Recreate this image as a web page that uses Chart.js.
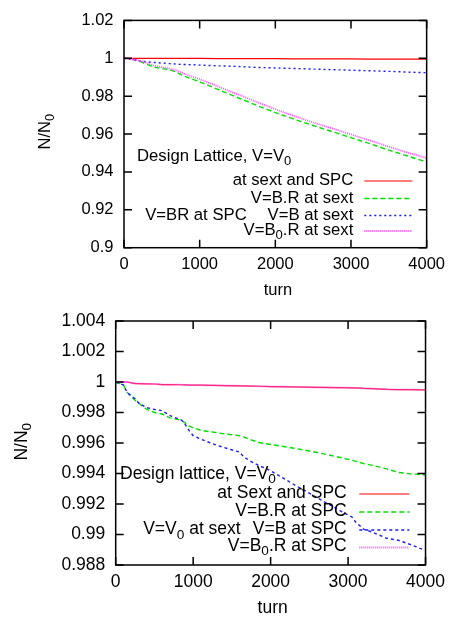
<!DOCTYPE html>
<html>
<head>
<meta charset="utf-8">
<script src="https://cdn.jsdelivr.net/npm/chart.js@4/dist/chart.umd.min.js"></script>
<style>
html,body{margin:0;padding:0;background:#fff;}
#wrap{position:relative;width:452px;height:617px;}
#c1{position:absolute;left:0;top:0;}
#c2{position:absolute;left:0;top:300px;}
</style>
</head>
<body>
<div id="wrap">
<canvas id="c1" width="452" height="300"></canvas>
<canvas id="c2" width="452" height="317"></canvas>
</div>
<script>
// ---------- DATA ----------
const xTickValues = [0, 1000, 2000, 3000, 4000];
const topYTickValues = [0.9, 0.92, 0.94, 0.96, 0.98, 1, 1.02];
const botYTickValues = [0.988, 0.99, 0.992, 0.994, 0.996, 0.998, 1, 1.002, 1.004];

// top panel (V=V0 design lattice, at sext)
const topTurns    = [0, 100, 200, 300, 400, 500, 600, 700, 800, 900, 1000, 1250, 1500, 1750, 2000, 2250, 2500, 2750, 3000, 3250, 3500, 3750, 4000];
const topSextSpc  = [1, 1, 1, 1, 0.9999, 0.9999, 0.9999, 0.9999, 0.9999, 0.9999, 0.9999, 0.9998, 0.9998, 0.9998, 0.9998, 0.9997, 0.9997, 0.9997, 0.9997, 0.9996, 0.9996, 0.9996, 0.9996];
const topBRSext   = [1, 0.9995, 0.9986, 0.9968, 0.9952, 0.9946, 0.9940, 0.9925, 0.9905, 0.9890, 0.9876, 0.9834, 0.9793, 0.9752, 0.9713, 0.9678, 0.9645, 0.9613, 0.9581, 0.9549, 0.9515, 0.9484, 0.9452];
const topBSext    = [1, 0.9994, 0.9986, 0.9981, 0.9978, 0.9975, 0.9972, 0.9969, 0.9967, 0.9966, 0.9964, 0.9960, 0.9957, 0.9952, 0.9949, 0.9946, 0.9943, 0.9940, 0.9937, 0.9934, 0.9931, 0.9927, 0.9924];
const topB0RSext  = [1, 0.9996, 0.9988, 0.9975, 0.9960, 0.9953, 0.9946, 0.9935, 0.9917, 0.9903, 0.9890, 0.9850, 0.9810, 0.9770, 0.9731, 0.9695, 0.9661, 0.9630, 0.9598, 0.9566, 0.9533, 0.9502, 0.9473];

// bottom panel (V=V0 at sext, at SPC)
const botTurns    = [0, 100, 150, 250, 300, 400, 500, 600, 700, 850, 900, 950, 1000, 1100, 1250, 1400, 1600, 1650, 1750, 1850, 2000, 2300, 2600, 2900, 3050, 3100, 3200, 3300, 3500, 3650, 3800, 4000];
const botSextSpc  = [1, 1, 1, 0.99989, 0.99989, 0.99988, 0.99987, 0.99983, 0.99983, 0.99982, 0.99981, 0.9998, 0.99979, 0.99979, 0.99978, 0.99976, 0.99975, 0.99974, 0.99973, 0.99972, 0.9997, 0.99968, 0.99965, 0.99963, 0.99962, 0.99961, 0.99958, 0.99957, 0.99952, 0.9995, 0.9995, 0.99948];
const botBRSpc    = [1, 0.9998, 0.9993, 0.9988, 0.9986, 0.9982, 0.998, 0.9979, 0.99765, 0.99748, 0.9973, 0.9971, 0.997, 0.99683, 0.99672, 0.9966, 0.99648, 0.9964, 0.9962, 0.99603, 0.9959, 0.99566, 0.99538, 0.99505, 0.99487, 0.9948, 0.99465, 0.99455, 0.9943, 0.99407, 0.99398, 0.9939];
const botBSpc     = [1, 0.9998, 0.9993, 0.9989, 0.9986, 0.99832, 0.9982, 0.99812, 0.9978, 0.9975, 0.9972, 0.9968, 0.99648, 0.99625, 0.99595, 0.9957, 0.9954, 0.9951, 0.99478, 0.99452, 0.99418, 0.99328, 0.99242, 0.99155, 0.99115, 0.9908, 0.99035, 0.99018, 0.98975, 0.98962, 0.98935, 0.98895];
const botB0RSpc   = [1, 1, 1, 0.9999, 0.99989, 0.99988, 0.99987, 0.99983, 0.99983, 0.99982, 0.99981, 0.9998, 0.9998, 0.99979, 0.99978, 0.99977, 0.99975, 0.99974, 0.99973, 0.99972, 0.9997, 0.99968, 0.99965, 0.99963, 0.99962, 0.99961, 0.99958, 0.99957, 0.99952, 0.9995, 0.9995, 0.99948];

// ---------- DRAWING ----------
const FONT = '"Liberation Sans", Arial, Helvetica, sans-serif';

function drawRich(ctx, s, x, y, align, size) {
  const parts = s.split(/_\{([^}]*)\}/);
  const subSize = size * 0.78;
  let w = 0;
  parts.forEach((p, i) => {
    ctx.font = (i % 2 ? subSize : size) + 'px ' + FONT;
    w += ctx.measureText(p).width;
  });
  let cx = align === 'right' ? x - w : (align === 'center' ? x - w / 2 : x);
  ctx.textAlign = 'left';
  ctx.textBaseline = 'middle';
  ctx.fillStyle = '#000';
  parts.forEach((p, i) => {
    const sub = i % 2 === 1;
    ctx.font = (sub ? subSize : size) + 'px ' + FONT;
    ctx.fillText(p, cx, sub ? y + size * 0.32 : y);
    cx += ctx.measureText(p).width;
  });
}

const framePlugin = {
  id: 'gnuframe',
  afterDraw(chart) {
    const o = chart.options.plugins.gnuframe;
    const ctx = chart.ctx;
    const a = chart.chartArea;
    const xs = chart.scales.x, ys = chart.scales.y;
    ctx.save();
    ctx.strokeStyle = '#000';
    ctx.lineWidth = 1.5;
    ctx.setLineDash([]);
    ctx.strokeRect(a.left, a.top, a.right - a.left, a.bottom - a.top);
    const tl = 8;
    ctx.beginPath();
    ys.ticks.forEach(t => {
      const py = ys.getPixelForValue(t.value);
      ctx.moveTo(a.left, py); ctx.lineTo(a.left + tl, py);
      ctx.moveTo(a.right, py); ctx.lineTo(a.right - tl, py);
    });
    xs.ticks.forEach(t => {
      const px = xs.getPixelForValue(t.value);
      ctx.moveTo(px, a.bottom); ctx.lineTo(px, a.bottom - tl);
      ctx.moveTo(px, a.top); ctx.lineTo(px, a.top + tl);
    });
    ctx.stroke();

    // axis titles
    drawRich(ctx, 'turn', o.xTitle[0], o.xTitle[1], 'center', o.size);
    ctx.save();
    ctx.translate(o.yTitle[0], o.yTitle[1]);
    ctx.rotate(-Math.PI / 2);
    drawRich(ctx, 'N/N_{0}', 0, 0, 'center', o.size);
    ctx.restore();

    // key
    drawRich(ctx, o.keyTitle.text, o.keyTitle.x, o.keyTitle.y, 'left', o.keySize);
    chart.data.datasets.forEach((d, i) => {
      const e = o.keyRows[i];
      drawRich(ctx, d.label, o.keyTextRight, e[0], 'right', o.keySize);
      ctx.save();
      ctx.beginPath();
      ctx.strokeStyle = d.borderColor;
      ctx.lineWidth = d.borderWidth;
      ctx.setLineDash(d.borderDash || []);
      ctx.moveTo(o.keySample[0], e[1]);
      ctx.lineTo(o.keySample[1], e[1]);
      ctx.stroke();
      ctx.restore();
    });
    o.extra.forEach(t => drawRich(ctx, t.text, t.x, t.y, 'right', o.keySize));
    ctx.restore();
  }
};

function fmt(v) { return String(+(+v).toFixed(4)); }

function build(id, cfg) {
  const datasets = cfg.series.map((s, i) => ({
    label: s.label,
    data: cfg.turns.map((t, k) => ({ x: t, y: s.values[k] })),
    borderColor: s.color,
    borderWidth: s.width,
    borderDash: s.dash,
    pointRadius: 0,
    fill: false,
    tension: 0,
    order: cfg.series.length - i
  }));
  const H = document.getElementById(id).height;
  return new Chart(document.getElementById(id), {
    type: 'line',
    data: { datasets },
    plugins: [framePlugin],
    options: {
      responsive: false,
      animation: false,
      devicePixelRatio: 1,
      layout: { padding: { left: 0, right: cfg.padRight, top: cfg.padTop, bottom: 0 } },
      plugins: {
        legend: { display: false },
        tooltip: { enabled: false },
        gnuframe: cfg.frame
      },
      scales: {
        x: {
          type: 'linear', min: 0, max: 4000,
          afterBuildTicks: s => { s.ticks = xTickValues.map(v => ({ value: v })); },
          afterFit: s => { s.height = H - cfg.plotBottom; },
          grid: { display: false, drawTicks: false },
          border: { display: false },
          ticks: { color: '#000', font: { family: FONT, size: cfg.tickSize }, padding: cfg.xPad, maxRotation: 0, autoSkip: false, callback: v => fmt(v) }
        },
        y: {
          type: 'linear', min: cfg.yTicks[0], max: cfg.yTicks[cfg.yTicks.length - 1],
          afterBuildTicks: s => { s.ticks = cfg.yTicks.map(v => ({ value: v })); },
          afterFit: s => { s.width = cfg.plotLeft; },
          grid: { display: false, drawTicks: false },
          border: { display: false },
          ticks: { color: '#000', font: { family: FONT, size: cfg.tickSize }, padding: 10.5, autoSkip: false, callback: v => fmt(v) }
        }
      }
    }
  });
}

build('c1', {
  turns: topTurns,
  yTicks: topYTickValues,
  plotLeft: 124, padRight: 19.3, padTop: 15, plotBottom: 247.7,
  tickSize: 16.5, xPad: 7,
  series: [
    { label: 'at sext and SPC', values: topSextSpc, color: '#ff0000', width: 1.2, dash: [] },
    { label: 'V=B.R at sext', values: topBRSext, color: '#00e000', width: 1.4, dash: [5, 3] },
    { label: 'V=B at sext', values: topBSext, color: '#1a1aff', width: 1.4, dash: [2, 3] },
    { label: 'V=B_{0}.R at sext', values: topB0RSext, color: '#ff4dff', width: 1.8, dash: [1, 1] }
  ],
  frame: {
    size: 16.5, keySize: 16.7,
    xTitle: [278, 290], yTitle: [45, 131.7],
    keyTitle: { text: 'Design Lattice, V=V_{0}', x: 137, y: 156 },
    keyTextRight: 353.3, keySample: [364.3, 412.3],
    keyRows: [[180, 181], [198.3, 198.5], [215.3, 215.5], [230.5, 231]],
    extra: [{ text: 'V=BR at SPC', x: 246.7, y: 215.3 }]
  }
});

build('c2', {
  turns: botTurns,
  yTicks: botYTickValues,
  plotLeft: 115.7, padRight: 21, padTop: 19.3, plotBottom: 265,
  tickSize: 17.5, xPad: 7,
  series: [
    { label: 'at Sext and SPC', values: botSextSpc, color: '#ff0000', width: 1.2, dash: [] },
    { label: 'V=B.R at SPC', values: botBRSpc, color: '#00e000', width: 1.4, dash: [5, 3] },
    { label: 'V=B at SPC', values: botBSpc, color: '#1a1aff', width: 1.4, dash: [3, 3] },
    { label: 'V=B_{0}.R at SPC', values: botB0RSpc, color: '#ff4dff', width: 1.8, dash: [1, 1] }
  ],
  frame: {
    size: 17.5, keySize: 17.5,
    xTitle: [272.7, 308.3], yTitle: [21.7, 141.7],
    keyTitle: { text: 'Design lattice, V=V_{0}', x: 120, y: 174 },
    keyTextRight: 346.7, keySample: [359.3, 409.3],
    keyRows: [[192.7, 194], [211, 212], [229.3, 230], [246, 247.5]],
    extra: [{ text: 'V=V_{0} at sext', x: 240.7, y: 229.3 }]
  }
});
</script>
</body>
</html>
